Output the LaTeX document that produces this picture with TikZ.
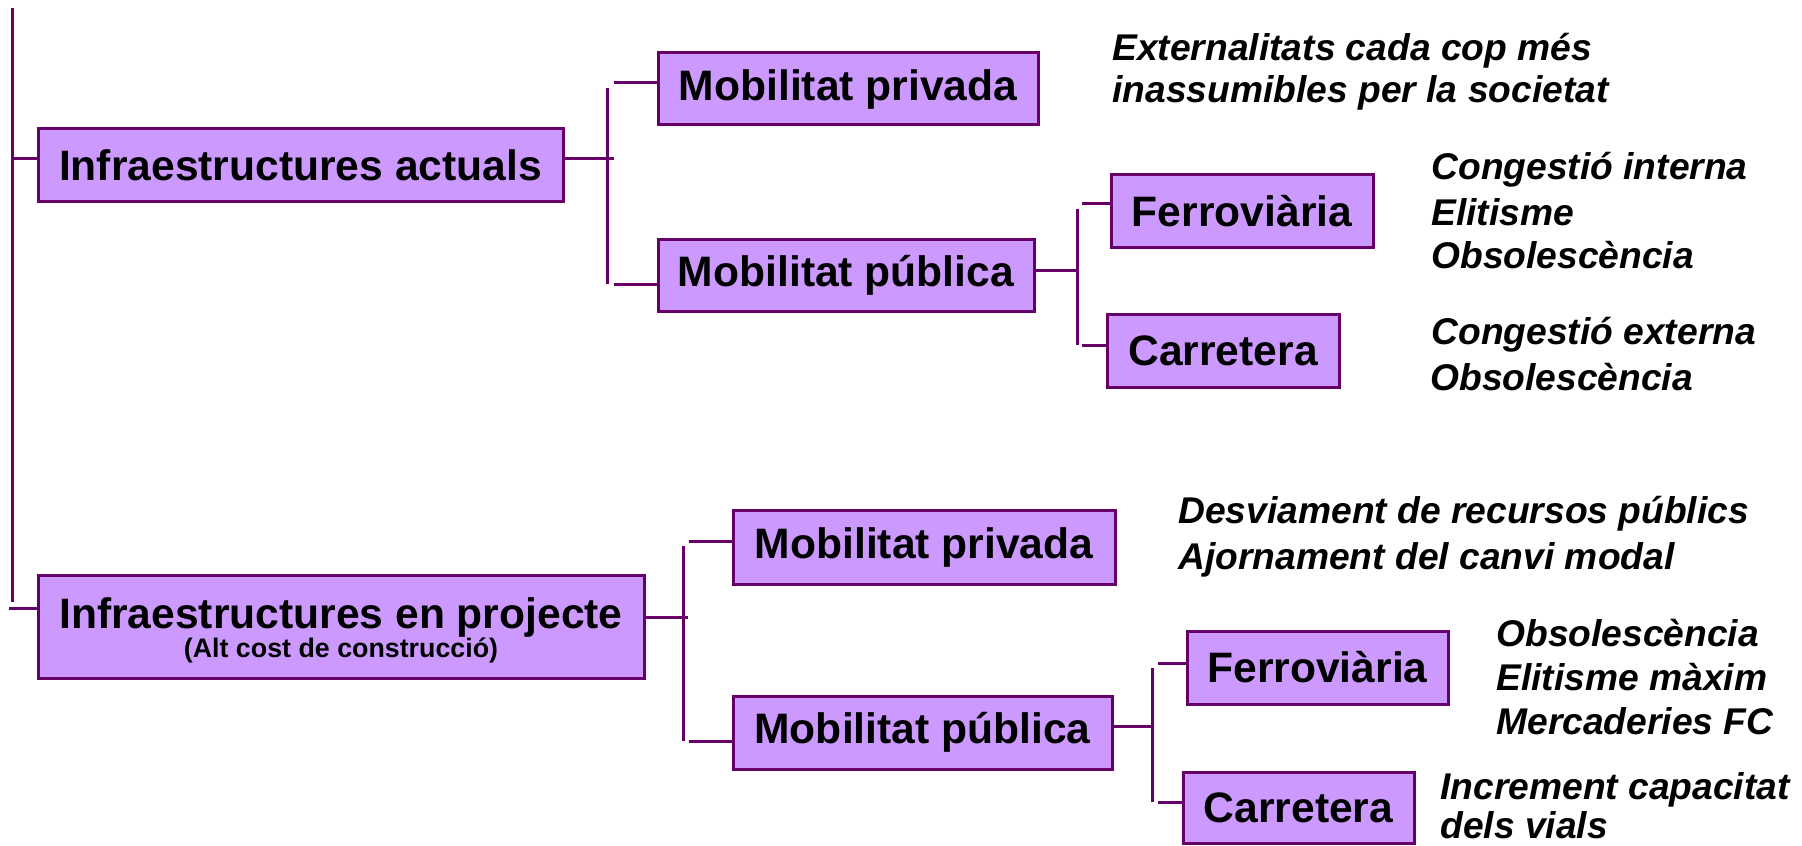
\documentclass[tikz,border=0pt]{standalone}
\usepackage{fontspec}
\setmainfont{Liberation Sans}
\usetikzlibrary{calc}
\definecolor{boxfill}{HTML}{CC99FF}
\definecolor{boxline}{HTML}{660066}
\begin{document}
\begin{tikzpicture}[x=0.5pt,y=-0.5pt,
  box/.style={draw=boxline, fill=boxfill, line width=1.5pt, inner sep=0pt, align=center,
    font=\fontsize{21.3}{24}\selectfont\bfseries},
  note/.style={anchor=west, inner sep=0pt, text height=0.75em, text depth=0.2em,
    font=\fontsize{18.6}{22}\selectfont\bfseries\itshape},
  link/.style={draw=boxline, line width=1.5pt}]
\useasboundingbox (0,0) rectangle (1802,845);

% boxes
\node[box, minimum width=262.5pt, minimum height=36.5pt] (A) at (300.5,165) {Infraestructures actuals};
\node[box, minimum width=190pt, minimum height=36pt] (A1) at (848,89) {Mobilitat privada};
\node[box, minimum width=188pt, minimum height=36pt] (A2) at (846,275) {Mobilitat pública};
\node[box, minimum width=131pt, minimum height=36pt] (A21) at (1242,211) {Ferroviària};
\node[box, minimum width=116pt, minimum height=36.5pt] (A22) at (1223,350.5) {Carretera};

\node[box, minimum width=303pt, minimum height=51.5pt] (B) at (341,626.5)
  {\rule{0pt}{19.5pt}Infraestructures en projecte\\[-9.5pt]{\fontsize{13.4}{15}\selectfont (Alt cost de construcció)}};
\node[box, minimum width=191pt, minimum height=37pt] (B1) at (924,547) {Mobilitat privada};
\node[box, minimum width=189.5pt, minimum height=36.5pt] (B2) at (922.5,732.5) {Mobilitat pública};
\node[box, minimum width=130.5pt, minimum height=36.5pt] (B21) at (1317.5,667.5) {Ferroviària};
\node[box, minimum width=115.5pt, minimum height=35.5pt] (B22) at (1298.5,807.5) {Carretera};

% trunk
\coordinate (T0) at (12,8);
\coordinate (T1) at (12,602);
\draw[link] (T0) -- (T1);
\coordinate (ja) at (12,159);
\draw[link] (ja) -- (ja -| A.west);
\coordinate (jb) at (9,608);
\draw[link] (jb) -- (jb -| B.west);

% bracket A
\coordinate (ka) at (614,159);
\coordinate (kat) at (607,88);
\coordinate (kab) at (607,284);
\coordinate (ka1) at (614,83);
\coordinate (ka2) at (614,284);
\draw[link] (ka -| A.east) -- (ka);
\draw[link] (kat) -- (kab);
\draw[link] (ka1) -- (ka1 -| A1.west);
\draw[link] (ka2) -- (ka2 -| A2.west);

% bracket A2
\coordinate (kc) at (1077,270);
\coordinate (kct) at (1077,209);
\coordinate (kcb) at (1077,345);
\coordinate (kc1) at (1082,204);
\coordinate (kc2) at (1082,345);
\draw[link] (kc -| A2.east) -- (kc);
\draw[link] (kct) -- (kcb);
\draw[link] (kc1) -- (kc1 -| A21.west);
\draw[link] (kc2) -- (kc2 -| A22.west);

% bracket B
\coordinate (kb) at (688,617);
\coordinate (kbt) at (683,546);
\coordinate (kbb) at (683,741);
\coordinate (kb1) at (689,541);
\coordinate (kb2) at (689,741);
\draw[link] (kb -| B.east) -- (kb);
\draw[link] (kbt) -- (kbb);
\draw[link] (kb1) -- (kb1 -| B1.west);
\draw[link] (kb2) -- (kb2 -| B2.west);

% bracket B2
\coordinate (kd) at (1152,726);
\coordinate (kdt) at (1152,668);
\coordinate (kdb) at (1152,802);
\coordinate (kd1) at (1158,663);
\coordinate (kd2) at (1158,802);
\draw[link] (kd -| B2.east) -- (kd);
\draw[link] (kdt) -- (kdb);
\draw[link] (kd1) -- (kd1 -| B21.west);
\draw[link] (kd2) -- (kd2 -| B22.west);

% notes
\node[note] (n1a) at (1112,55) {Externalitats cada cop més};
\node[note] (n1b) at (1112,97) {inassumibles per la societat};
\node[note] (n2a) at (1431,174) {Congestió interna};
\node[note] (n2b) at (1431,220) {Elitisme};
\node[note] (n2c) at (1431,263) {Obsolescència};
\node[note] (n3a) at (1431,339) {Congestió externa};
\node[note] (n3b) at (1430,385) {Obsolescència};
\node[note] (n4a) at (1178,518) {Desviament de recursos públics};
\node[note] (n4b) at (1178,564) {Ajornament del canvi modal};
\node[note] (n5a) at (1496,641) {Obsolescència};
\node[note] (n5b) at (1496,685) {Elitisme màxim};
\node[note] (n5c) at (1496,729) {Mercaderies FC};
\node[note] (n6a) at (1440,794) {Increment capacitat};
\node[note] (n6b) at (1440,833) {dels vials};
\end{tikzpicture}
\end{document}
